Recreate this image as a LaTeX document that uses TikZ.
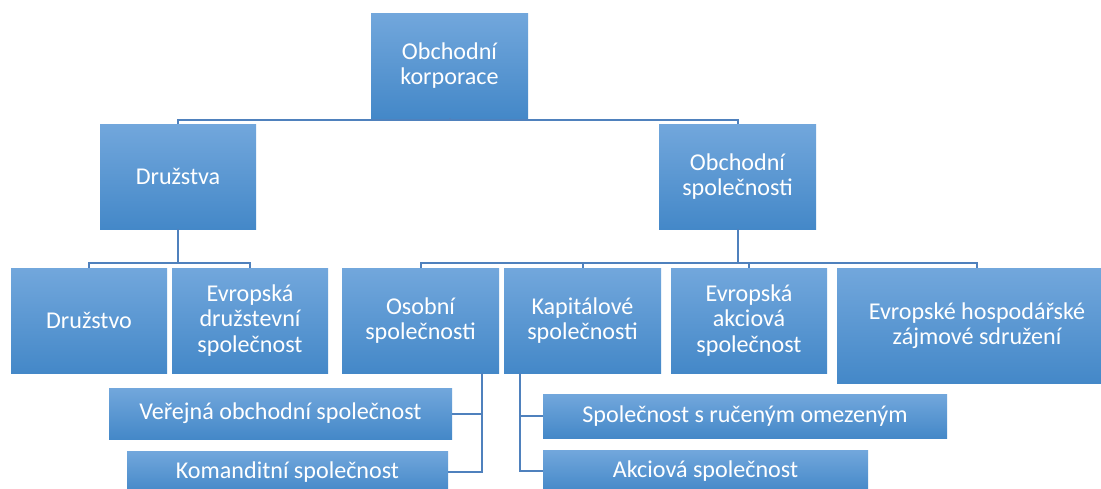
\documentclass[tikz,border=0pt]{standalone}
\usepackage{fontspec}
\setmainfont{Carlito}
\usetikzlibrary{positioning,calc}

\definecolor{boxtop}{RGB}{114,167,220}
\definecolor{boxmid}{RGB}{88,153,213}
\definecolor{boxbot}{RGB}{68,136,200}
\definecolor{connblue}{RGB}{79,129,189}

\begin{document}
\begin{tikzpicture}[x=1pt, y=-1pt,
    box/.style={shape=rectangle, inner sep=0pt, align=center, text=white,
                top color=boxtop, middle color=boxmid, bottom color=boxbot,
                font=\fontsize{24.1}{25.5}\selectfont},
    conn/.style={draw=connblue, line width=2pt},
]
\clip (0,0) rectangle (1101,488);
\fill[white] (0,0) rectangle (1101,488);

% top levels
\node[box, minimum width=157pt, minimum height=105pt] (korp) at (449.5,65.5) {Obchodní\\korporace};
\node[box, minimum width=156pt, minimum height=105pt] (druzstva) at (178,176.5) {Družstva};
\node[box, minimum width=157pt, minimum height=105pt] (obchspol) at (737.5,176.5) {Obchodní\\společnosti};

% third level
\node[box, minimum width=156pt, minimum height=105pt] (druzstvo) at (89,320.5) {Družstvo};
\node[box, minimum width=156pt, minimum height=105pt] (evdruz)   at (250,320.5) {Evropská\\družstevní\\společnost};
\node[box, minimum width=157pt, minimum height=105pt] (osobni)   at (420.5,320.5) {Osobní\\společnosti};
\node[box, minimum width=157pt, minimum height=105pt] (kapital)  at (582.5,320.5) {Kapitálové\\společnosti};
\node[box, minimum width=156pt, minimum height=105pt] (evakc)    at (749,320.5) {Evropská\\akciová\\společnost};
\node[box, minimum width=280pt, minimum height=115pt] (ehzs)     at (977,325.5) {Evropské hospodářské\\zájmové sdružení};

% companies
\node[box, minimum width=343pt, minimum height=51pt] (vos)  at (280.5,413.5) {Veřejná obchodní společnost};
\node[box, minimum width=321pt, minimum height=42pt] (ks)   at (287.5,472)   {Komanditní společnost};
\node[box, minimum width=404pt, minimum height=44pt] (sro)  at (745,416)     {Společnost s ručeným omezeným};
\node[box, minimum width=325pt, minimum height=42pt] (akc)  at (705.5,471)   {Akciová společnost};

% connectors
\foreach \n in {druzstva,obchspol}
  \draw[conn] (korp.south) |- ([yshift=4pt]\n.north) -- (\n.north);
\foreach \n in {druzstvo,evdruz}
  \draw[conn] (druzstva.south) |- ([yshift=5pt]\n.north) -- (\n.north);
\foreach \n in {osobni,kapital,evakc,ehzs}
  \draw[conn] (obchspol.south) |- ([yshift=5pt]\n.north) -- (\n.north);
\foreach \n in {vos,ks}
  \draw[conn] ([xshift=-17pt]osobni.south east) |- (\n.east);
\foreach \n in {sro,akc}
  \draw[conn] ([xshift=16pt]kapital.south west) |- (\n.west);
\end{tikzpicture}
\end{document}
